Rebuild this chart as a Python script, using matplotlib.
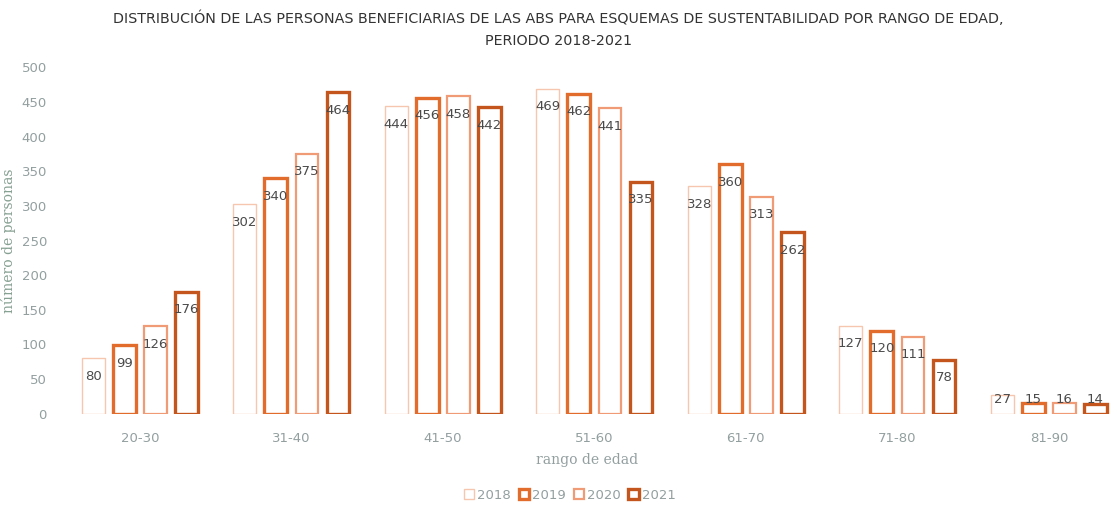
import numpy as np
import matplotlib.pyplot as plt
from matplotlib.patches import Patch

rangos = ["20-30", "31-40", "41-50", "51-60", "61-70", "71-80", "81-90"]
anios = ["2018", "2019", "2020", "2021"]
v2018 = [80, 302, 444, 469, 328, 127, 27]
v2019 = [99, 340, 456, 462, 360, 120, 15]
v2020 = [126, 375, 458, 441, 313, 111, 16]
v2021 = [176, 464, 442, 335, 262, 78, 14]
series = [v2018, v2019, v2020, v2021]

colores = ["#f7c6ae", "#e26c2c", "#f09a76", "#c4551c"]
grosores = [1.0, 2.4, 1.6, 2.4]

fig = plt.figure(figsize=(11.17, 5.09), dpi=100)
ax = fig.add_axes([0.052, 0.187, 0.948, 0.681])

x = np.arange(len(rangos))
paso = 0.205
ancho = 0.15
for i, vals in enumerate(series):
    pos = x + (i - 1.5) * paso
    ax.bar(pos, vals, ancho, facecolor="white", edgecolor=colores[i],
           linewidth=grosores[i], label=anios[i], zorder=2)
    for p, v in zip(pos, vals):
        ax.text(p, max(v - 26, 21), str(v), ha="center", va="center",
                fontsize=9.5, color="#4a4a4a", zorder=3)

ax.set_xlim(-0.54, 6.45)
ax.set_ylim(0, 500)
ax.set_yticks(range(0, 501, 50))
ax.set_xticks(x)
ax.set_xticklabels(rangos)
ax.tick_params(axis="both", length=0, labelsize=9.5, colors="#939f9f")
ax.tick_params(axis="x", pad=13)
ax.tick_params(axis="y", pad=8)
for s in ax.spines.values():
    s.set_visible(False)

ax.set_ylabel("número de personas", family="DejaVu Serif", fontsize=10,
              color="#86a092", labelpad=4)
ax.set_xlabel("rango de edad", family="DejaVu Serif", fontsize=10,
              color="#939f9f", labelpad=6)

fig.suptitle("DISTRIBUCIÓN DE LAS PERSONAS BENEFICIARIAS DE LAS ABS PARA ESQUEMAS DE SUSTENTABILIDAD POR RANGO DE EDAD,\nPERIODO 2018-2021",
             y=0.98, fontsize=10.3, color="#333333", linespacing=1.72)

handles = [Patch(facecolor="white", edgecolor=c, linewidth=w) for c, w in zip(colores, grosores)]
fig.legend(handles, anios, loc="center", bbox_to_anchor=(0.51, 0.027), ncol=4,
           frameon=False, fontsize=9.5, handlelength=0.8, handleheight=0.8,
           handletextpad=0.2, columnspacing=0.6, labelcolor="#939f9f")

fig.savefig("out.png", dpi=100)
